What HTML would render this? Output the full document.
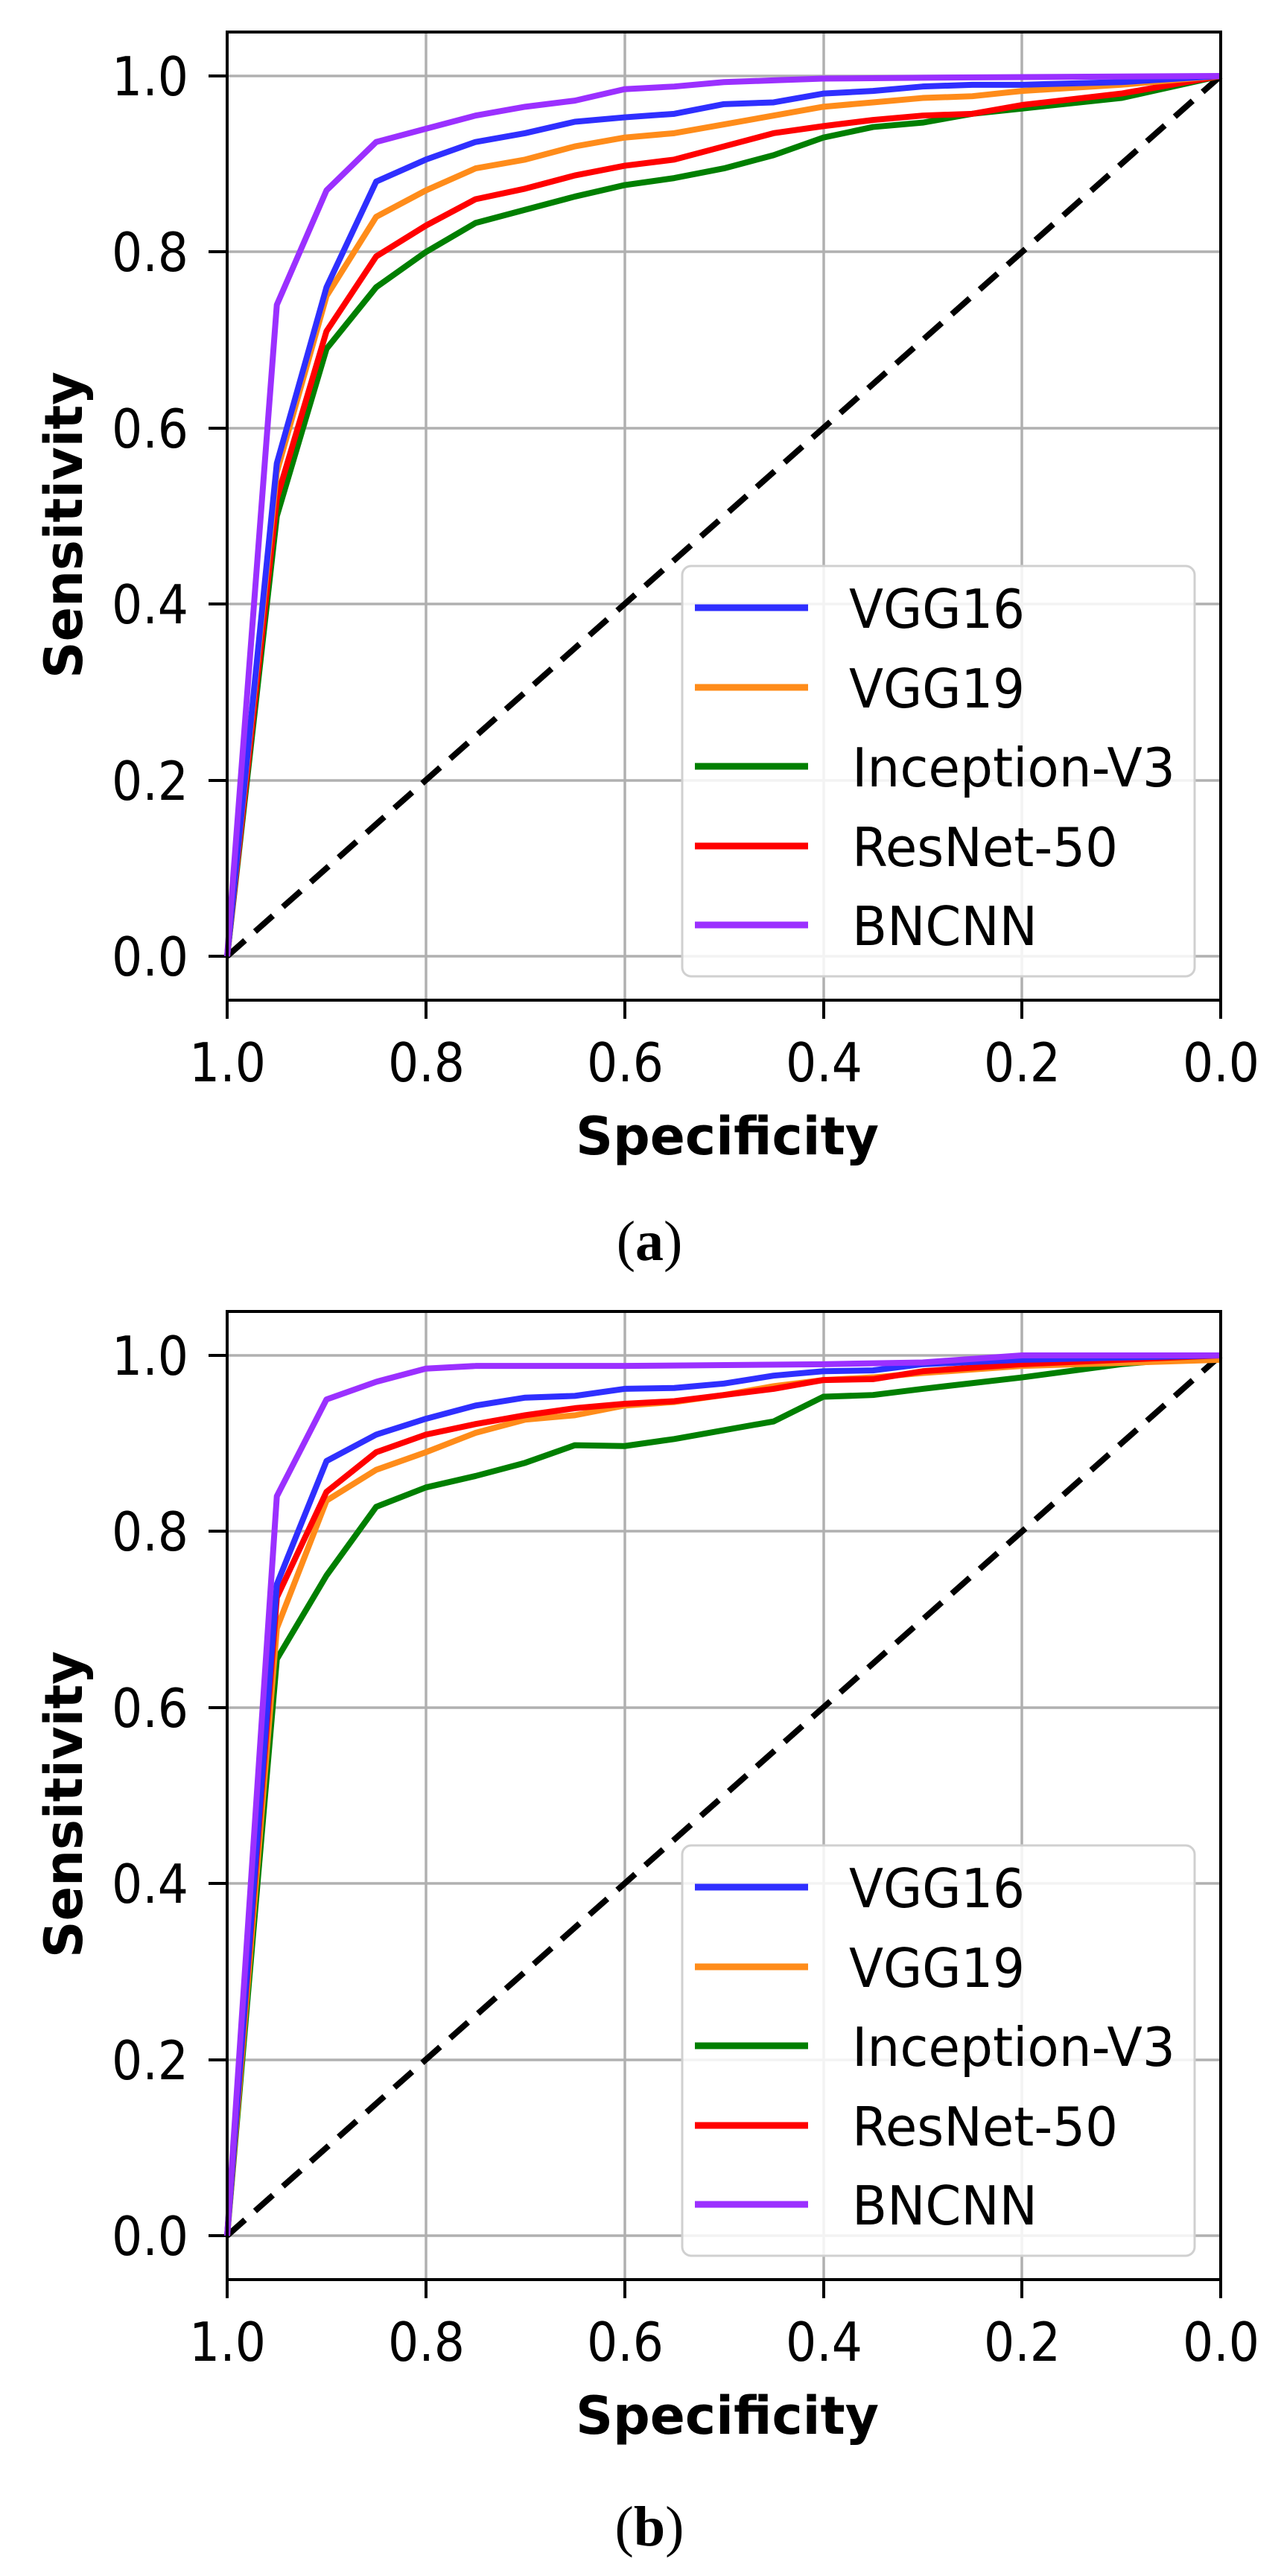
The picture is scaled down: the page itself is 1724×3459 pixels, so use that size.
<!DOCTYPE html>
<html><head><meta charset="utf-8"><style>
html,body{margin:0;padding:0;background:#fff}
svg{display:block}
text{font-family:"DejaVu Sans","Liberation Sans",sans-serif;fill:#000}
</style></head><body>
<svg width="1724" height="3459" viewBox="0 0 1724 3459" xmlns="http://www.w3.org/2000/svg">
<defs>
<g id="frame">
  <g stroke="#b0b0b0" stroke-width="3.5">
    <line x1="305" y1="102" x2="1639" y2="102"/>
    <line x1="305" y1="338" x2="1639" y2="338"/>
    <line x1="305" y1="575" x2="1639" y2="575"/>
    <line x1="305" y1="811" x2="1639" y2="811"/>
    <line x1="305" y1="1048" x2="1639" y2="1048"/>
    <line x1="305" y1="1284" x2="1639" y2="1284"/>
    <line x1="572" y1="43" x2="572" y2="1343"/>
    <line x1="839" y1="43" x2="839" y2="1343"/>
    <line x1="1106" y1="43" x2="1106" y2="1343"/>
    <line x1="1372" y1="43" x2="1372" y2="1343"/>
  </g>
  <g stroke="#000" stroke-width="4">
    <line x1="280" y1="102" x2="305" y2="102"/>
    <line x1="280" y1="338" x2="305" y2="338"/>
    <line x1="280" y1="575" x2="305" y2="575"/>
    <line x1="280" y1="811" x2="305" y2="811"/>
    <line x1="280" y1="1048" x2="305" y2="1048"/>
    <line x1="280" y1="1284" x2="305" y2="1284"/>
    <line x1="305" y1="1343" x2="305" y2="1368"/>
    <line x1="572" y1="1343" x2="572" y2="1368"/>
    <line x1="839" y1="1343" x2="839" y2="1368"/>
    <line x1="1106" y1="1343" x2="1106" y2="1368"/>
    <line x1="1372" y1="1343" x2="1372" y2="1368"/>
    <line x1="1639" y1="1343" x2="1639" y2="1368"/>
  </g>
  <g font-size="72" text-anchor="end">
    <text x="253" y="128" textLength="103" lengthAdjust="spacingAndGlyphs">1.0</text>
    <text x="253" y="364" textLength="103" lengthAdjust="spacingAndGlyphs">0.8</text>
    <text x="253" y="601" textLength="103" lengthAdjust="spacingAndGlyphs">0.6</text>
    <text x="253" y="837" textLength="103" lengthAdjust="spacingAndGlyphs">0.4</text>
    <text x="253" y="1074" textLength="103" lengthAdjust="spacingAndGlyphs">0.2</text>
    <text x="253" y="1310" textLength="103" lengthAdjust="spacingAndGlyphs">0.0</text>
  </g>
  <g font-size="72">
    <text x="254" y="1452" textLength="103" lengthAdjust="spacingAndGlyphs">1.0</text>
    <text x="521" y="1452" textLength="103" lengthAdjust="spacingAndGlyphs">0.8</text>
    <text x="788" y="1452" textLength="103" lengthAdjust="spacingAndGlyphs">0.6</text>
    <text x="1055" y="1452" textLength="103" lengthAdjust="spacingAndGlyphs">0.4</text>
    <text x="1321" y="1452" textLength="103" lengthAdjust="spacingAndGlyphs">0.2</text>
    <text x="1588" y="1452" textLength="103" lengthAdjust="spacingAndGlyphs">0.0</text>
  </g>
  <text x="773" y="1550" font-size="70" font-weight="bold" textLength="407" lengthAdjust="spacingAndGlyphs">Specificity</text>
  <text transform="translate(110,911) rotate(-90)" font-size="70" font-weight="bold" textLength="412" lengthAdjust="spacingAndGlyphs">Sensitivity</text>
  <line x1="305" y1="1284" x2="1639" y2="102" stroke="#000" stroke-width="8" stroke-dasharray="32,18"/>
</g>
<g id="legend">
  <rect x="916" y="760" width="688" height="551" rx="12" fill="#fff" fill-opacity="0.85" stroke="#d0d0d0" stroke-width="3"/>
  <g stroke-width="9">
    <line x1="933" y1="816" x2="1085" y2="816" stroke="#2f2fff"/>
    <line x1="933" y1="923" x2="1085" y2="923" stroke="#ff8c1a"/>
    <line x1="933" y1="1029" x2="1085" y2="1029" stroke="#007f00"/>
    <line x1="933" y1="1136" x2="1085" y2="1136" stroke="#ff0000"/>
    <line x1="933" y1="1242" x2="1085" y2="1242" stroke="#9b30ff"/>
  </g>
  <g font-size="72">
    <text x="1140" y="843" textLength="236" lengthAdjust="spacingAndGlyphs">VGG16</text>
    <text x="1140" y="950" textLength="236" lengthAdjust="spacingAndGlyphs">VGG19</text>
    <text x="1144" y="1056" textLength="434" lengthAdjust="spacingAndGlyphs">Inception-V3</text>
    <text x="1144" y="1163" textLength="357" lengthAdjust="spacingAndGlyphs">ResNet-50</text>
    <text x="1144" y="1269" textLength="249" lengthAdjust="spacingAndGlyphs">BNCNN</text>
  </g>
</g>
</defs>

<use href="#frame"/>
<g transform="matrix(-1334 0 0 -1182 1639 1284)" fill="none" stroke-width="8" stroke-linejoin="round">
  <polyline vector-effect="non-scaling-stroke" stroke="#007f00" points="1,0 0.95,0.5 0.9,0.69 0.85,0.76 0.8,0.8 0.75,0.833 0.7,0.848 0.65,0.863 0.6,0.876 0.55,0.884 0.5,0.895 0.45,0.91 0.4,0.93 0.35,0.942 0.3,0.947 0.25,0.957 0.2,0.963 0.1,0.975 0,1"/>
  <polyline vector-effect="non-scaling-stroke" stroke="#ff0000" points="1,0 0.95,0.52 0.9,0.71 0.85,0.795 0.8,0.83 0.75,0.86 0.7,0.872 0.65,0.887 0.6,0.898 0.55,0.905 0.5,0.92 0.45,0.935 0.4,0.943 0.35,0.95 0.3,0.955 0.25,0.957 0.2,0.967 0.1,0.98 0,1"/>
  <polyline vector-effect="non-scaling-stroke" stroke="#ff8c1a" points="1,0 0.95,0.55 0.9,0.75 0.85,0.84 0.8,0.87 0.75,0.895 0.7,0.905 0.65,0.92 0.6,0.93 0.55,0.935 0.5,0.945 0.45,0.955 0.4,0.965 0.35,0.97 0.3,0.975 0.25,0.977 0.2,0.983 0.1,0.99 0,1"/>
  <polyline vector-effect="non-scaling-stroke" stroke="#2f2fff" points="1,0 0.95,0.56 0.9,0.76 0.85,0.88 0.8,0.905 0.75,0.925 0.7,0.935 0.65,0.948 0.6,0.953 0.55,0.957 0.5,0.968 0.45,0.97 0.4,0.98 0.35,0.983 0.3,0.988 0.25,0.99 0.2,0.99 0.1,0.993 0,1"/>
  <polyline vector-effect="non-scaling-stroke" stroke="#9b30ff" points="1,0 0.95,0.74 0.9,0.87 0.85,0.925 0.8,0.94 0.75,0.955 0.7,0.965 0.65,0.972 0.6,0.985 0.55,0.988 0.5,0.993 0.45,0.995 0.4,0.997 0.3,0.998 0,1"/>
</g>
<rect x="305" y="43" width="1334" height="1300" fill="none" stroke="#000" stroke-width="4"/>
<use href="#legend"/>
<text x="872" y="1692" text-anchor="middle" font-size="76" style="font-family:'Liberation Serif',serif">(<tspan font-weight="bold">a</tspan>)</text>

<g transform="translate(0,1718)">
<use href="#frame"/>
<g transform="matrix(-1334 0 0 -1182 1639 1284)" fill="none" stroke-width="8" stroke-linejoin="round">
  <polyline vector-effect="non-scaling-stroke" stroke="#007f00" points="1,0 0.95,0.655 0.9,0.75 0.85,0.828 0.8,0.85 0.75,0.863 0.7,0.878 0.65,0.898 0.6,0.897 0.55,0.905 0.5,0.915 0.45,0.925 0.4,0.953 0.35,0.955 0.3,0.962 0.2,0.975 0.1,0.99 0,1"/>
  <polyline vector-effect="non-scaling-stroke" stroke="#ff8c1a" points="1,0 0.95,0.69 0.9,0.835 0.85,0.87 0.8,0.89 0.75,0.912 0.7,0.927 0.65,0.932 0.6,0.943 0.55,0.947 0.5,0.955 0.45,0.965 0.4,0.972 0.35,0.975 0.3,0.98 0.2,0.988 0,0.995"/>
  <polyline vector-effect="non-scaling-stroke" stroke="#ff0000" points="1,0 0.95,0.725 0.9,0.845 0.85,0.89 0.8,0.91 0.75,0.922 0.7,0.932 0.65,0.94 0.6,0.945 0.55,0.948 0.5,0.955 0.45,0.962 0.4,0.972 0.35,0.973 0.3,0.982 0.2,0.99 0,1"/>
  <polyline vector-effect="non-scaling-stroke" stroke="#2f2fff" points="1,0 0.95,0.74 0.9,0.88 0.85,0.91 0.8,0.928 0.75,0.943 0.7,0.952 0.65,0.954 0.6,0.962 0.55,0.963 0.5,0.968 0.45,0.977 0.4,0.982 0.35,0.983 0.3,0.99 0.2,0.995 0,1"/>
  <polyline vector-effect="non-scaling-stroke" stroke="#9b30ff" points="1,0 0.95,0.84 0.9,0.95 0.85,0.97 0.8,0.985 0.75,0.988 0.6,0.988 0.4,0.99 0.3,0.992 0.2,1 0,1"/>
</g>
<rect x="305" y="43" width="1334" height="1300" fill="none" stroke="#000" stroke-width="4"/>
<use href="#legend"/>
<text x="872" y="1700" text-anchor="middle" font-size="76" style="font-family:'Liberation Serif',serif">(<tspan font-weight="bold">b</tspan>)</text>
</g>
</svg>
</body></html>
